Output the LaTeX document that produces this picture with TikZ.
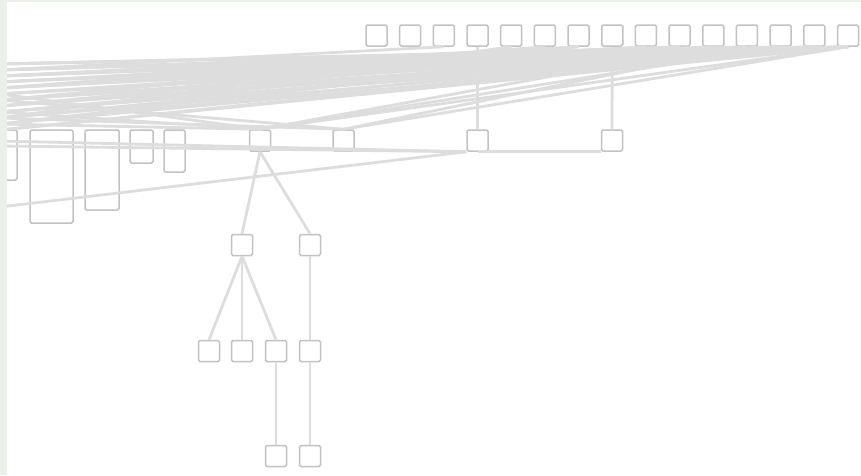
\documentclass[tikz,border=0pt]{standalone}
\begin{document}
\begin{tikzpicture}[x=1pt,y=-1pt]
\definecolor{edgegray}{HTML}{DDDDDD}
\definecolor{boxgray}{HTML}{C2C2C2}
\definecolor{bandgreen}{HTML}{EBF0EB}
\tikzset{
  nbox/.style={draw=boxgray, line width=1.5pt, rounded corners=1.5pt, fill=white, minimum size=21pt, inner sep=0pt},
  rbox/.style={draw=boxgray, line width=1.5pt, rounded corners=1.5pt},
  edge/.style={draw=edgegray, line width=2.8pt},
}
\useasboundingbox (0,0) rectangle (861,475);
\fill[white] (0,0) rectangle (861,475);
% left rectangles (tall nodes, partly hidden)
\draw[rbox] (-3,130) rectangle (17,180);
\draw[rbox] (30,130) rectangle (73,223);
\draw[rbox] (85,130) rectangle (119,210);
\draw[rbox] (130,130) rectangle (153,163);
\draw[rbox] (164,130) rectangle (185,172);
% top row
\foreach \i in {1,...,15} {
  \node[nbox] (t\i) at ({376.5+33.68*(\i-1)},35.5) {};
}
% second row
\node[nbox] (r2a) at (260,140.5) {};
\node[nbox] (r2b) at (343.5,140.5) {};
\node[nbox] (r2c) at (477.5,140.5) {};
\node[nbox] (r2d) at (612,140.5) {};
% lower rows
\node[nbox] (a) at (242,245) {};
\node[nbox] (b) at (310,245) {};
\node[nbox] (c1) at (209,351) {};
\node[nbox] (c2) at (242,351) {};
\node[nbox] (c3) at (276,351) {};
\node[nbox] (c4) at (310,351) {};
\node[nbox] (d1) at (276,456) {};
\node[nbox] (d2) at (310,456) {};
% left-edge end points
\foreach \j/\y in {1/64,2/70,3/76,4/82,5/88,6/94,7/100,8/106,9/112,10/118,11/124,12/130} {
  \coordinate (e\j) at (0,\y);
}
\coordinate (g1) at (0,141);
\coordinate (g2) at (0,146);
\coordinate (g3) at (0,207);
% fan of edges, mostly from the right end of the top row
\foreach \j in {1,...,12} {
  \draw[edge] (t15.south) -- (e\j);
}
\foreach \i/\j in {14/1,14/3,14/6,14/9,14/12,13/2,13/5,13/8,13/11,12/1,12/4,12/7,12/10,11/3,11/6,11/9,10/2,10/5,10/11,9/4,9/8,7/3,7/7,6/5,5/10,3/2} {
  \draw[edge] (t\i.south) -- (e\j);
}
\foreach \i in {15,13,11} { \draw[edge] (t\i.south) -- (r2a.north); }
\foreach \i in {15,12} { \draw[edge] (t\i.south) -- (r2b.north); }
\draw[edge] (r2a.north) -- (e9);
\draw[edge] (r2a.north) -- (e6);
\draw[edge] (r2a.north) -- (e11);
\draw[edge] (r2b.north) -- (e7);
\draw[edge] (r2b.north) -- (e10);
% verticals
\draw[edge] (t4.south) -- (r2c.north);
\draw[edge] (t8.south) -- (r2d.north);
% lower band
\draw[edge] (g1) -- (r2c.south west);
\draw[edge] (g2) -- (r2c.south west);
\draw[edge] (g3) -- (r2c.south west);
\draw[edge] (r2c.south) -- (r2d.south west);
% tree part
\draw[edge] (r2a.south) -- (a.north);
\draw[edge] (r2a.south) -- (b.north);
\draw[edge] (a.south) -- (c1.north);
\draw[edge] (a.south) -- (c2.north);
\draw[edge] (a.south) -- (c3.north);
\draw[edge] (b.south) -- (c4.north);
\draw[edge] (c4.south) -- (d2.north);
\draw[edge] (c3.south) -- (d1.north);
% page bands
\fill[bandgreen] (0,0) rectangle (7,475);
\fill[bandgreen] (0,0) rectangle (861,2);
\end{tikzpicture}
\end{document}
